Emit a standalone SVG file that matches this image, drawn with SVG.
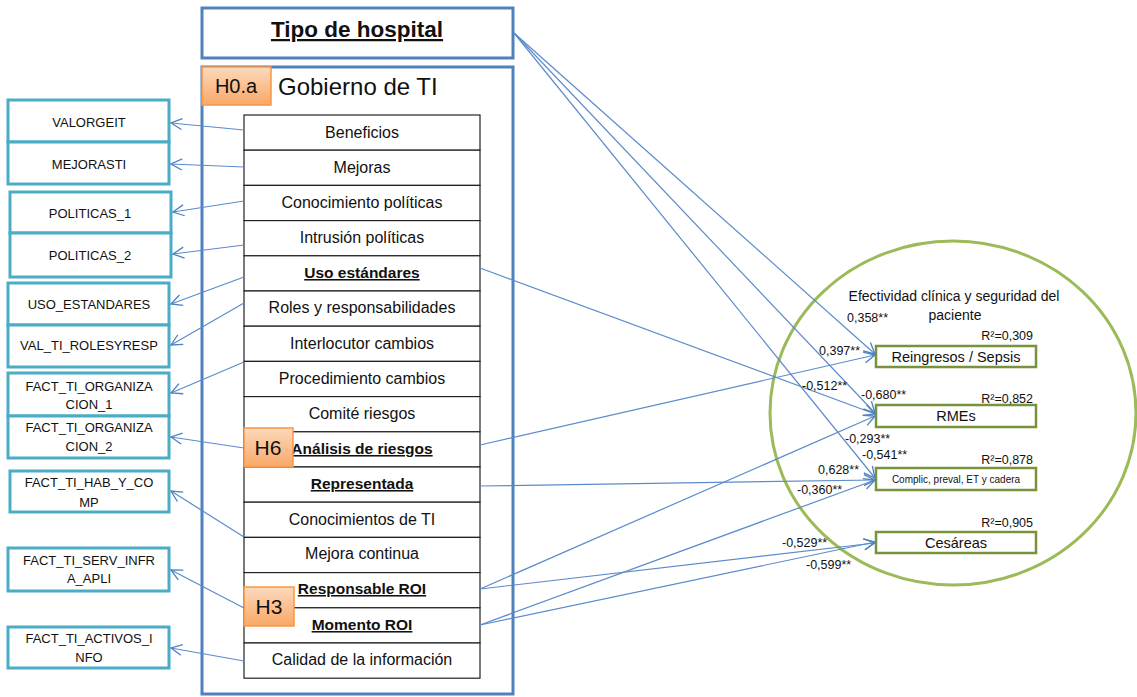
<svg xmlns="http://www.w3.org/2000/svg" width="1137" height="697" viewBox="0 0 1137 697">
<defs>
<linearGradient id="og" x1="0" y1="0" x2="0" y2="1">
<stop offset="0" stop-color="#FCD9BC"/>
<stop offset="1" stop-color="#F9A866"/>
</linearGradient>
<marker id="ar" markerUnits="userSpaceOnUse" markerWidth="14" markerHeight="14" refX="12" refY="6.5" orient="auto" viewBox="0 0 14 13">
<path d="M1,1 L12,6.5 L1,12" fill="none" stroke="#4F81BD" stroke-width="1.3"/>
</marker>
</defs>
<style>
.bb{fill:#fff;stroke:#4F81BD;stroke-width:3}
.tb{fill:#fff;stroke:#4BACC6;stroke-width:3}
.gb{fill:#fff;stroke:#77933C;stroke-width:2.5}
.ob{fill:url(#og);stroke:#F79646;stroke-width:1.5}
.row{fill:#fff;stroke:#222;stroke-width:1.2}
text{font-family:"Liberation Sans",Arial,sans-serif;fill:#111}
.t15{font-size:16px;text-anchor:middle}
.t15b{font-size:15.5px;text-anchor:middle;font-weight:bold;text-decoration:underline}
.lt{font-size:13px;text-anchor:middle}
.lab{font-size:12.5px}
.r2{font-size:12.5px;text-anchor:end}
.oc{font-size:14.5px;text-anchor:middle}
.c{fill:none;stroke:#5B8BCB;stroke-width:1.2;marker-end:url(#ar)}
</style>
<rect width="1137" height="697" fill="#fff"/>

<g id="tipo-hospital">
<rect class="bb" x="202" y="8" width="311" height="50"/>
<text x="357" y="37" font-size="22.5" font-weight="bold" text-anchor="middle" text-decoration="underline">Tipo de hospital</text>
</g>

<g id="gobierno-ti">
<rect class="bb" x="202" y="67" width="311" height="627"/>
<text x="278" y="95" font-size="24">Gobierno de TI</text>
</g>

<g id="tabla">
<rect class="row" x="244" y="115" width="236" height="35.2"/>
<text class="t15" x="362" y="138">Beneficios</text>
<rect class="row" x="244" y="150.2" width="236" height="35.2"/>
<text class="t15" x="362" y="173">Mejoras</text>
<rect class="row" x="244" y="185.4" width="236" height="35.2"/>
<text class="t15" x="362" y="208">Conocimiento políticas</text>
<rect class="row" x="244" y="220.6" width="236" height="35.2"/>
<text class="t15" x="362" y="243">Intrusión políticas</text>
<rect class="row" x="244" y="255.8" width="236" height="35.2"/>
<text class="t15b" x="362" y="278">Uso estándares</text>
<rect class="row" x="244" y="291" width="236" height="35.2"/>
<text class="t15" x="362" y="313">Roles y responsabilidades</text>
<rect class="row" x="244" y="326.2" width="236" height="35.2"/>
<text class="t15" x="362" y="349">Interlocutor  cambios</text>
<rect class="row" x="244" y="361.4" width="236" height="35.2"/>
<text class="t15" x="362" y="384">Procedimiento  cambios</text>
<rect class="row" x="244" y="396.6" width="236" height="35.2"/>
<text class="t15" x="362" y="419">Comité riesgos</text>
<rect class="row" x="244" y="431.8" width="236" height="35.2"/>
<text class="t15b" x="362" y="454">Análisis de riesgos</text>
<rect class="row" x="244" y="467" width="236" height="35.2"/>
<text class="t15b" x="362" y="489">Representada</text>
<rect class="row" x="244" y="502.2" width="236" height="35.2"/>
<text class="t15" x="362" y="525">Conocimientos  de TI</text>
<rect class="row" x="244" y="537.4" width="236" height="35.2"/>
<text class="t15" x="362" y="559">Mejora  continua</text>
<rect class="row" x="244" y="572.6" width="236" height="35.2"/>
<text class="t15b" x="362" y="594">Responsable ROI</text>
<rect class="row" x="244" y="607.8" width="236" height="35.2"/>
<text class="t15b" x="362" y="630">Momento ROI</text>
<rect class="row" x="244" y="643" width="236" height="35.2"/>
<text class="t15" x="362" y="665">Calidad de la información</text>
</g>

<g id="h0a">
<rect class="ob" x="202" y="67" width="69" height="38"/>
<text x="236" y="93" font-size="20" text-anchor="middle">H0.a</text>
</g>
<g id="h6">
<rect class="ob" x="244" y="428" width="49" height="39"/>
<text x="268" y="455" font-size="21" text-anchor="middle">H6</text>
</g>
<g id="h3">
<rect class="ob" x="244" y="587" width="50" height="39"/>
<text x="269" y="614" font-size="21" text-anchor="middle">H3</text>
</g>

<g id="valorgeit"><rect class="tb" x="8" y="100" width="161" height="42"/><text class="lt" x="89" y="127">VALORGEIT</text></g>
<g id="mejorasti"><rect class="tb" x="8" y="142" width="161" height="42"/><text class="lt" x="89" y="169">MEJORASTI</text></g>
<g id="politicas1"><rect class="tb" x="10" y="192" width="161" height="41"/><text class="lt" x="90" y="218">POLITICAS_1</text></g>
<g id="politicas2"><rect class="tb" x="10" y="233" width="161" height="44"/><text class="lt" x="90" y="260">POLITICAS_2</text></g>
<g id="uso-estandares"><rect class="tb" x="8" y="283" width="161" height="42"/><text class="lt" x="89" y="309">USO_ESTANDARES</text></g>
<g id="val-ti-rolesyresp"><rect class="tb" x="8" y="325" width="161" height="42"/><text class="lt" x="89" y="350">VAL_TI_ROLESYRESP</text></g>
<g id="fact-org1"><rect class="tb" x="8" y="373" width="161" height="43"/><text class="lt" x="89" y="391">FACT_TI_ORGANIZA</text><text class="lt" x="89" y="409">CION_1</text></g>
<g id="fact-org2"><rect class="tb" x="8" y="416" width="161" height="42"/><text class="lt" x="89" y="432">FACT_TI_ORGANIZA</text><text class="lt" x="89" y="451">CION_2</text></g>
<g id="fact-hab"><rect class="tb" x="10" y="471" width="159" height="41"/><text class="lt" x="89" y="487">FACT_TI_HAB_Y_CO</text><text class="lt" x="89" y="507">MP</text></g>
<g id="fact-serv"><rect class="tb" x="8" y="548" width="161" height="43"/><text class="lt" x="89" y="565">FACT_TI_SERV_INFR</text><text class="lt" x="89" y="583">A_APLI</text></g>
<g id="fact-activos"><rect class="tb" x="8" y="627" width="161" height="41"/><text class="lt" x="89" y="643">FACT_TI_ACTIVOS_I</text><text class="lt" x="89" y="662">NFO</text></g>

<g id="efectividad">
<ellipse cx="953" cy="413" rx="183" ry="172" fill="none" stroke="#9BBB59" stroke-width="3"/>
<text x="954" y="301" font-size="14" text-anchor="middle">Efectividad clínica y seguridad del</text>
<text x="955" y="320" font-size="14" text-anchor="middle">paciente</text>
</g>

<g id="reingresos"><rect class="gb" x="876" y="346" width="160" height="21"/><text class="oc" x="956" y="362">Reingresos / Sepsis</text><text class="r2" x="1033" y="340">R²=0,309</text></g>
<g id="rmes"><rect class="gb" x="876" y="405" width="160" height="22"/><text class="oc" x="956" y="421">RMEs</text><text class="r2" x="1033" y="403">R²=0,852</text></g>
<g id="complic"><rect class="gb" x="876" y="468" width="160" height="22"/><text x="956" y="483" font-size="10" text-anchor="middle">Complic, preval, ET y cadera</text><text class="r2" x="1033" y="464">R²=0,878</text></g>
<g id="cesareas"><rect class="gb" x="876" y="532" width="160" height="21"/><text class="oc" x="956" y="548">Cesáreas</text><text class="r2" x="1033" y="527">R²=0,905</text></g>

<g id="connectors">
<line class="c" x1="244" y1="130" x2="171" y2="123"/>
<line class="c" x1="244" y1="167" x2="171" y2="164"/>
<line class="c" x1="244" y1="201" x2="173" y2="212"/>
<line class="c" x1="244" y1="245" x2="173" y2="254"/>
<line class="c" x1="244" y1="277" x2="171" y2="304"/>
<line class="c" x1="244" y1="303" x2="171" y2="345"/>
<line class="c" x1="244" y1="362" x2="171" y2="393"/>
<line class="c" x1="244" y1="448" x2="171" y2="437"/>
<line class="c" x1="244" y1="537" x2="171" y2="491"/>
<line class="c" x1="244" y1="608" x2="171" y2="570"/>
<line class="c" x1="244" y1="661" x2="171" y2="648"/>

<line class="c" x1="514" y1="33" x2="875" y2="354"/>
<line class="c" x1="480" y1="445" x2="875" y2="355"/>
<line class="c" x1="480" y1="268" x2="875" y2="414"/>
<line class="c" x1="514" y1="33" x2="875" y2="413"/>
<line class="c" x1="480" y1="589" x2="875" y2="416"/>
<line class="c" x1="514" y1="33" x2="875" y2="478"/>
<line class="c" x1="480" y1="486" x2="875" y2="480"/>
<line class="c" x1="480" y1="625" x2="875" y2="480"/>
<line class="c" x1="480" y1="589" x2="875" y2="543"/>
<line class="c" x1="480" y1="625" x2="875" y2="542"/>
</g>

<g id="labels">
<text class="lab" x="847" y="322">0,358**</text>
<text class="lab" x="819" y="355">0,397**</text>
<text class="lab" x="802" y="390">-0,512**</text>
<text class="lab" x="861" y="399">-0,680**</text>
<text class="lab" x="845" y="443">-0,293**</text>
<text class="lab" x="862" y="459">-0,541**</text>
<text class="lab" x="818" y="474">0,628**</text>
<text class="lab" x="797" y="494">-0,360**</text>
<text class="lab" x="782" y="547">-0,529**</text>
<text class="lab" x="806" y="569">-0,599**</text>
</g>
</svg>
